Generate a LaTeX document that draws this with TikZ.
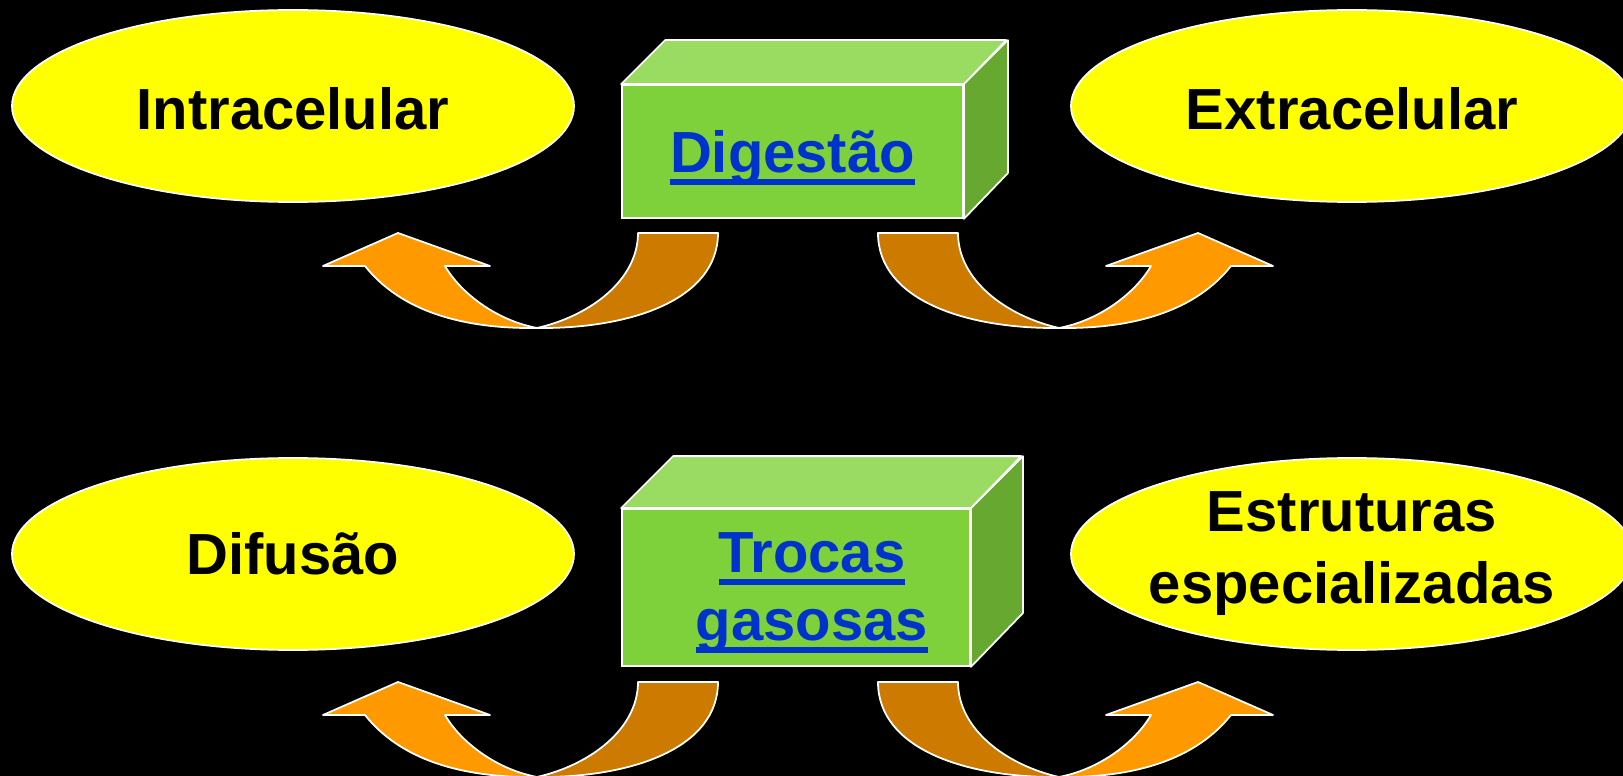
\documentclass[tikz,border=0pt]{standalone}
\usepackage{fontspec}
\setmainfont{Liberation Sans}
\usetikzlibrary{shapes.geometric,calc}
\definecolor{amarelo}{HTML}{FFFF00}
\definecolor{verde}{HTML}{7FD13B}
\definecolor{verdeclaro}{HTML}{9ADB62}
\definecolor{verdeesc}{HTML}{66A830}
\definecolor{azul}{HTML}{0033CC}
\definecolor{laranja}{HTML}{FF9900}
\definecolor{laranjaesc}{HTML}{CC7A00}
\def\elipse{\node[ellipse,draw=white,fill=amarelo,line width=0.5pt,inner sep=0pt,minimum width=56.2mm,minimum height=19.2mm,align=center]}
\def\caixa{\node[rectangle,draw=white,fill=verde,line width=0.5pt,inner sep=0pt,align=center,text=azul]}
\def\drawface{\filldraw[draw=white,line width=0.5pt,line join=round]}
\newcommand\sublinha[1]{\setbox0\hbox{#1}\rlap{\rule[-3.5pt]{\wd0}{1.6pt}}\box0}
\newcommand\setacurva{%
\drawface[fill=laranjaesc] (638,233) -- (718,233) .. controls (718,300) and (630,329) .. (537,328)
  .. controls (590,316) and (638,280) .. (638,233) -- cycle;
\drawface[fill=laranja] (365,266) .. controls (400,310) and (460,329) .. (537,328)
  .. controls (495,320) and (460,292) .. (445,266) -- (490,266) -- (398,233) -- (323,266) -- cycle;
}

\begin{document}
\begin{tikzpicture}[x=0.1mm,y=-0.1mm,font=\bfseries\fontsize{16.5}{20.5}\selectfont]
\path[use as bounding box,fill=black] (0,0) rectangle (1623,776);
% linha de cima
\elipse[text height=13.5pt] (intra) at (293,106) {Intracelular};
\elipse[text height=13.5pt] (extra) at (1352,106) {Extracelular};
\caixa[minimum width=34.1mm,minimum height=13.3mm,text height=12pt,text depth=0pt] (dig) at (792.5,151.5) {\sublinha{Digestão}};
\drawface[fill=verdeclaro] (dig.north west) -- ++(44,-44) -- ++(341,0) -- (dig.north east) -- cycle;
\drawface[fill=verdeesc] (dig.north east) -- ++(44,-44) -- ++(0,133) -- (dig.south east) -- cycle;
\setacurva
\begin{scope}[shift={(1596,0)},xscale=-1]
\setacurva
\end{scope}
% linha de baixo
\elipse (difu) at (293,554) {Difusão};
\elipse (estr) at (1352,554) {\makebox[0pt]{Estruturas}\\\makebox[0pt]{especializadas}};
\caixa[minimum width=34.8mm,minimum height=15.7mm] (troc) at (796,587.5) {};
\node[text=azul,align=center,font=\bfseries\fontsize{16.5}{19.3}\selectfont] (troctxt) at ($(troc)+(16,5)$) {\sublinha{Trocas}\\\sublinha{gasosas}};
\drawface[fill=verdeclaro] (troc.north west) -- ++(52,-52) -- ++(348,0) -- (troc.north east) -- cycle;
\drawface[fill=verdeesc] (troc.north east) -- ++(52,-52) -- ++(0,157) -- (troc.south east) -- cycle;
\begin{scope}[shift={(0,449)}]
\setacurva
\end{scope}
\begin{scope}[shift={(1596,449)},xscale=-1]
\setacurva
\end{scope}
\end{tikzpicture}
\end{document}
